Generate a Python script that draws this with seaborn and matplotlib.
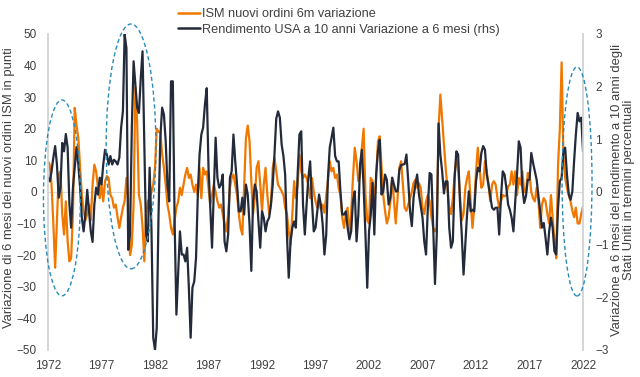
import matplotlib
matplotlib.use('Agg')
import pandas as pd
import matplotlib.pyplot as plt
import matplotlib.dates as mdates
import seaborn as sns
from matplotlib.patches import Ellipse
from matplotlib.lines import Line2D

# ISM new orders, 6 month change (points), every 2 months from Jan 1972
ism_6m = [
    9.7, 8.6, 2.3, -10, -24, -9, 5.5, 6.5, -7, -13.5, -3, -15.6, -22, -21, -7, 26.6, 21, 17, 7.6, -1, -6,
    -9, -7, -4, -9, 2.3, 8.6, 6.5, 1.3, -2, 2.3, -3, 3.4, 5, 4.4, -1, -2, -5, -4, -8, -11.4, -8, -5,
    -3, 4.4, -3, -20, -17, -4, 33, 22, -1, -4, -11, -22, -7, -3, -2, 0, 2.3, 7.6, 20, 19, 19, 12,
    7.6, 2.3, -4, -7, -11.4, -13.5, -9, -5, -3, 1.3, -1, 2.3, 5.5, 7.6, 4.4, 5.5, 2.3, 0, 2.3, -1, 7.6, -2,
    7.6, 5.5, 6.5, 1.3, -4, -1, 2.3, 0, -3, -5, -4, -7, -10, -12.5, -7, 1.3, 4.4, 5.5, 2.3, -1, -7,
    -11.4, -13.5, 1.3, 17, 21, 16, 3.4, -7, -2, 7.6, 9.7, 2.3, -6, 2.3, 7.6, -1, -7, -4, 7.6, 10.8, 6.5, 2.3,
    1.3, 0.2, -1, -5, -7, -12.5, -16.7, -7, 3.4, -2, 2.3, 11.8, 6.5, 4.4, 5.5, 4.4, 2.3, -2, 4.4, 0, -3,
    -5, -3, -5.6, -4, -6.6, -1, 3.4, 9.7, 6.5, 7.6, 4.4, 5.5, 1.3, -1, -8, -11.4, -7, -5, -13.5, -7, 4.4, 14, 9.7,
    3.4, 5.5, 14, 20, -1, -9, -10, 4.4, 3.4, -3, 4.4, 16, 17.6, 8.6, -1, -6, -10, -8, -3, 4.4, -3, -10,
    -2, 7.6, 9.7, 2.3, -5, -6, -4, -2, 0, 2.8, 3.9, 1.3, 2.8, 1.3, -5, -7, -3, -1, -3, -8, -11.4, -12.5,
    -11.4, 20, 30.8, 23, 15, 7.6, 1.3, -5, -7, -2, 5.5, 10.2, 7.6, -1, -9, -7, 1.3, 4.4, 6.5, -3, -11.4,
    -5, 6.5, 14, 7.6, 1.3, 2.3, 9.7, 6.5, 2.3, -3, 2.3, 3.4, 2.3, -2, -5, -3, -1, -1.4, -1, 1.8, 2.3, 6.5,
    2.3, 6.5, -1, 4.4, 2.3, 6.5, 0, 0, 6, 5.5, 0, -2, -3, 1.3, -3, -11.4, -4, -2, -3, -7,
    -10, -1, -8, -15.6, -21, 8.6, 20, 41, 11.8, 4.4, 1.3, -1, -3, -6, -8, -5, -10, -10, -7, -4.6,
]

# US 10y yield, 6 month change (percentage points), rhs
ust10_6m = [
    0.27, 0.2, 0.39, 0.65, 0.87, 0.52, -0.11, 0.08, 0.93, 0.77, 1.1, 0.84, -0.24, -0.68, 0.08, 0.46, 0.85,
    0.52, 0.08, -0.49, -0.75, -0.43, 0.04, -0.37, -0.75, -0.95, -0.24, 0.08, -0.05, 0.27, 0.14, 0.52, 0.8,
    0.71, 0.52, 0.68, 0.52, 0.61, 0.58, 0.52, 0.65, 1.22, 1.53,
    2.99, 2.73, -1.1, -0.81, 1.22, 2.48, 2.04, 1.6, 1.5, 2.16, 2.67, 0.9, -0.81, -0.94, 0.46, -0.68, -2.77,
    -3.0, -2.58, -0.43, 1.03, 1.6, 1.47, 0.96, 0.14, -0.18, 2.1, 2.1, -0.56, -2.33, -1.57, -0.75, -1.19,
    -1.19, -1.32, -1.06, -1.82, -2.77, -1.82, -1.7, -1.25, -0.05, 0.71, 1.09,
    1.22, 1.66, 1.97, 0.46, -0.3, -1.06, 0.01, 1.03, 0.27, 0.08, 0.14, 0.33, -0.94, -1.13, -0.81, 0.27,
    0.39, 1.09, 0.58, 0.14, -0.37, -0.37, -0.11, -0.43, 0.14, -0.05, -0.62, -1.5, -0.18, 0.14, 0.01, -0.56,
    -1.06, -0.37, -0.49, -0.75, -0.56, -0.49, -0.24, 0.14, 0.71, 1.39, 1.53,
    1.41, 0.9, 0.68, 0.33, -0.81, -1.63, -0.94, -0.68, -0.56, -0.68, 0.33, 1.09, 1.15, -0.24, -0.81, -0.24,
    0.27, 0.58, -0.18, -0.75, -0.68, -0.37, -0.05, -0.24, -0.62, -1.19, -0.81, 0.27, 0.84, 1.03, 1.22, 0.68,
    0.58, 0.58, 0.01, -0.43, -0.43, -0.37, -0.68, -0.9, -0.75, -0.18, 0.01, -0.94,
    -0.43, 0.52, 0.8, 0.08, -0.81, -1.82, -0.75, -0.43, 0.17, -0.81, 0.33, 0.77, 0.99, -0.05, 0.01, 0.33,
    0.23, -0.24, -0.11, 0.27, 0.14, 0.01, 0.01, 0.42, 0.51, 0.52, 0.53, 0.71, 0.2, -0.37, -0.65, -0.11,
    0.14, 0.33, -0.05, -0.27, -0.49, -0.94, -1.19, -0.3, 0.36, 0.33, -0.68, -1.75,
    -0.81, 1.3, 0.71, 0.39, -0.03, 0.2, 0.2, -0.68, -1.06, -0.94, 0.27, 0.77, 0.71, -0.18, -0.81, -1.57,
    -1.0, -0.43, 0.01, -0.37, -0.34, -0.37, 0.2, 0.46, 0.39, 0.74, 0.87, 0.8, 0.33, 0.14, -0.08, -0.3,
    -0.34, -0.3, -0.3, -0.81, -0.11, 0.39, 0.33, 0.08, -0.24, -0.34, -0.49,
    -0.75, -0.18, 0.33, 0.96, 0.84, 0.08, -0.21, -0.08, 0.23, 0.23, 0.74, 0.55, 0.39, 0.23, -0.08, -0.4,
    -0.68, -0.59, -0.87, -1.19, -0.75, -0.49, -0.68, -1.13, -1.19, -0.3, 0.2, 0.27, 0.77, 0.84, 0.33,
    -0.05, -0.15, 0.01, 0.58, 1.09, 1.5, 1.34, 1.41, 0.77,
]

tick_years = [1972, 1977, 1982, 1987, 1992, 1997, 2002, 2007, 2012, 2017, 2022]
labels = ['ISM nuovi ordini 6m variazione', 'Rendimento USA a 10 anni Variazione a 6 mesi (rhs)']
left_title = 'Variazione di 6 mesi dei nuovi ordini ISM in punti'
right_title = 'Variazione a 6 mesi del rendimento a 10 anni degli\nStati Uniti in termini percentuali'

# highlighted periods: (centre date, centre on lhs, width in years, height on lhs)
highlights = [
    ('1973-04-20', -1.9, 3.45, 62),
    ('1979-10-05', 14.4, 4.65, 77.5),
    ('2021-06-10', 3.3, 2.8, 72.5),
]

ism_df = pd.DataFrame({'date': pd.date_range('1972-01-01', periods=len(ism_6m), freq='2MS'),
                       'value': ism_6m})
ust_df = pd.DataFrame({'date': pd.date_range('1972-01-01', periods=len(ust10_6m), freq='2MS'),
                       'value': ust10_6m})

sns.set_theme(style='white')
plt.rcParams['font.family'] = ['Liberation Sans', 'DejaVu Sans']
text_col = '#404040'
orange = '#F07800'
navy = '#232A3A'

fig, ax = plt.subplots(figsize=(6.4, 3.77), dpi=100)
fig.subplots_adjust(left=0.075, right=0.911, top=0.91, bottom=0.072)
ax2 = ax.twinx()

ax.axhline(0, color='#dcdcdc', lw=0.8, zorder=0)
sns.lineplot(data=ism_df, x='date', y='value', ax=ax, color=orange, lw=1.6)
sns.lineplot(data=ust_df, x='date', y='value', ax=ax2, color=navy, lw=1.6)

ax.set_ylim(-50, 50)
ax2.set_ylim(-3, 3)
ax.set_yticks(range(-50, 51, 10))
ax2.set_yticks(range(-3, 4))
ax.set_xlim(pd.Timestamp('1972-01-01'), pd.Timestamp('2022-01-01'))
ax.set_xticks([pd.Timestamp(f'{y}-01-01') for y in tick_years])
ax.xaxis.set_major_formatter(mdates.DateFormatter('%Y'))

for a in (ax, ax2):
    for s in a.spines.values():
        s.set_visible(False)
    a.tick_params(length=0, labelsize=8.5, colors=text_col)
    a.set_xlabel('')
    a.set_ylabel('')
ax2.spines['left'].set_visible(True)
ax2.spines['right'].set_visible(True)
ax2.spines['left'].set_color('#d0d0d0')
ax2.spines['right'].set_color('#d0d0d0')
ax.tick_params(axis='y', pad=8)
ax2.tick_params(axis='y', pad=9)
ax.tick_params(axis='x', pad=7)

fig.text(9 / 640, 1 - 188 / 377, left_title, rotation=90, ha='center', va='center',
         fontsize=9.4, color=text_col)
fig.text(623 / 640, 1 - 190 / 377, right_title, rotation=90, ha='center', va='center',
         multialignment='center', fontsize=9.4, color=text_col, linespacing=1.05)

for centre, yc, w, h in highlights:
    e = Ellipse((mdates.date2num(pd.Timestamp(centre)), yc), width=w * 365.25, height=h,
                transform=ax.transData, fill=False, edgecolor='#2A8AB8', lw=1.0,
                linestyle=(0, (3, 2)), clip_on=False, zorder=5)
    ax2.add_patch(e)

handles = [Line2D([], [], color=orange, lw=1.8), Line2D([], [], color=navy, lw=1.8)]
fig.legend(handles, labels, loc='upper left', bbox_to_anchor=(0.266, 0.998), frameon=False,
           fontsize=9.2, handlelength=1.75, handletextpad=0.1, labelspacing=0.25,
           labelcolor=text_col, borderaxespad=0.2)

fig.savefig('out.png', dpi=100)
